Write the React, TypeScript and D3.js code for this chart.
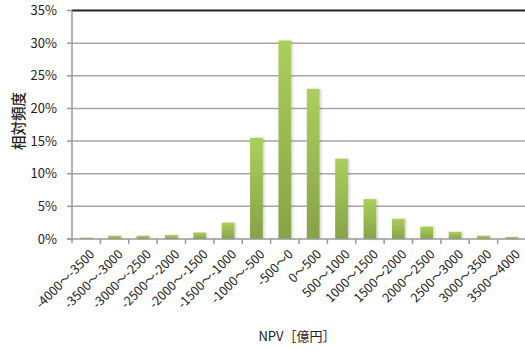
import React from "react";
import * as d3 from "d3";

const categories = [
  "-4000～-3500", "-3500～-3000", "-3000～-2500", "-2500～-2000",
  "-2000～-1500", "-1500～-1000", "-1000～-500", "-500～0",
  "0～500", "500～1000", "1000～1500", "1500～2000",
  "2000～2500", "2500～3000", "3000～3500", "3500～4000",
];
const frequency = [0.2, 0.5, 0.5, 0.6, 1.0, 2.5, 15.5, 30.4, 23.0, 12.3, 6.1, 3.1, 1.9, 1.1, 0.5, 0.3];
const yTicks = [0, 5, 10, 15, 20, 25, 30, 35];

const W = 525;
const H = 349;
const left = 72;
const right = 526;
const top = 10.5;
const bottom = 239;
const font = "'Noto Sans CJK JP', 'Noto Sans', sans-serif";

export default function App() {
  const x = d3.scaleBand<string>().domain(categories).range([left, right]).paddingInner(0.55).paddingOuter(0.275);
  const step = x.step();
  const y = d3.scaleLinear().domain([0, 35]).range([bottom, top]);

  return (
    <svg width={W} height={H} style={{ position: "absolute", left: 0, top: 0 }} fontFamily={font}>
      <defs>
        <linearGradient id="barFill" x1="0" y1="0" x2="0" y2="1">
          <stop offset="0%" stopColor="#abcf5c" />
          <stop offset="100%" stopColor="#86a347" />
        </linearGradient>
        <filter id="barShadow" x="-30%" y="-5%" width="160%" height="110%">
          <feDropShadow dx="1.5" dy="0" stdDeviation="1" floodColor="#000" floodOpacity="0.18" />
        </filter>
      </defs>
      <rect width={W} height={H} fill="#fff" />
      {/* gridlines */}
      {yTicks.slice(1, -1).map((t) => (
        <line key={t} x1={left} x2={W} y1={y(t)} y2={y(t)} stroke="#a6a6a6" strokeWidth={1.5} />
      ))}
      <line x1={left} x2={W} y1={y(35)} y2={y(35)} stroke="#222" strokeWidth={2} />
      {/* bars */}
      {categories.map((c, i) => (
        <rect
          key={c}
          x={x(c)}
          y={y(frequency[i])}
          width={x.bandwidth()}
          height={bottom - y(frequency[i])}
          fill="url(#barFill)"
          filter="url(#barShadow)"
        />
      ))}
      {/* axes */}
      <line x1={left} x2={left} y1={top} y2={bottom + 4} stroke="#999" strokeWidth={1.5} />
      <line x1={left - 5} x2={W} y1={bottom} y2={bottom} stroke="#999" strokeWidth={1.5} />
      {yTicks.map((t) => (
        <g key={t}>
          <line x1={left - 5} x2={left} y1={y(t)} y2={y(t)} stroke="#999" strokeWidth={1.5} />
          <text x={57} y={y(t)} dy="0.35em" textAnchor="end" fontSize={13} fill="#222">
            {t}%
          </text>
        </g>
      ))}
      {categories.map((c, i) => (
        <line key={c} x1={left + step * (i + 1)} x2={left + step * (i + 1)} y1={bottom} y2={bottom + 5} stroke="#999" strokeWidth={1.5} />
      ))}
      {categories.map((c) => {
        const cx = (x(c) as number) + x.bandwidth() / 2 + 6;
        const cy = bottom + 13;
        return (
          <text key={c} transform={`translate(${cx},${cy}) rotate(-45)`} textAnchor="end" dy="0.35em" fontSize={12.5} fill="#222">
            {c}
          </text>
        );
      })}
      <text transform={`translate(19,${121}) rotate(-90)`} textAnchor="middle" dy="0.35em" fontSize={14.5} fontWeight={500} fill="#222">
        相対頻度
      </text>
      <text x={297} y={341} textAnchor="middle" fontSize={13} fill="#222">
        NPV［億円］
      </text>
    </svg>
  );
}
